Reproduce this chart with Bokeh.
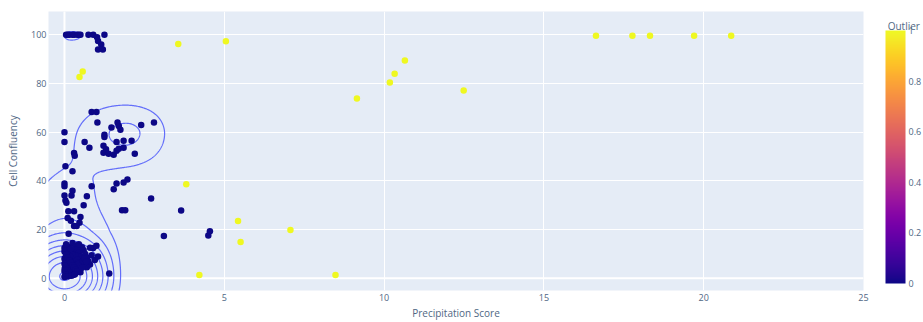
import numpy as np
from bokeh.plotting import figure
from bokeh.layouts import row
from bokeh.models import (ColumnDataSource, LinearColorMapper, ColorBar, FixedTicker,
                          Span, CustomJSTickFormatter)
from bokeh.core.properties import value
from bokeh.palettes import Plasma256
from bokeh.embed import file_html
from bokeh.resources import INLINE

# ---------------- data ----------------
# non-outlier samples (Outlier = 0)
precip_top = [0.05, 0.1, 0.15, 0.25, 0.3, 0.4, 0.45, 0.5, 0.75, 0.9, 1.02, 1.25, 1.05, 1.15, 1.05, 1.2]
conf_top = [100, 100, 100, 100, 100, 100, 100, 100, 100, 100, 99, 100, 97.5, 96, 94, 94]

precip_mid = [0.85, 1.0, 1.03, 1.47, 1.66, 1.7, 1.75, 2.4, 2.8, 0.0, 0.0, 0.63, 0.78, 0.3, 0.32,
              1.25, 1.25, 1.22, 1.3, 1.22, 1.38, 1.54, 1.63, 1.7, 1.85, 1.85, 2.1, 2.2, 1.63,
              0.03, 0.25]
conf_mid = [68.3, 68.3, 64, 62, 64, 62.6, 61, 63, 64, 60, 56, 56, 53.6, 51.5, 50.4,
            59, 58, 54.5, 53, 51.6, 51.2, 50.8, 52.4, 53.2, 53.6, 56.5, 56.5, 51.2, 56,
            46, 44]

precip_low = [0.0, 0.0, 0.25, 0.0, 0.03, 0.06, 0.22, 0.85, 0.7, 0.6, 1.54, 1.63, 1.85, 1.97, 2.71,
              1.8, 1.9, 0.12, 0.3, 0.1, 0.2, 0.5, 0.47, 0.3, 0.38, 0.13, 3.65, 3.11, 4.5, 4.55]
conf_low = [39, 37.8, 36, 34, 32, 31, 34, 37.8, 33.7, 30, 36.6, 39, 39.4, 40.6, 32.8,
            28, 28, 27.6, 27.6, 24.8, 23.6, 25.2, 22.8, 21.5, 21.5, 18.3, 27.9, 17.4, 17.6, 19.3]

precip_base = [0.0, 0.05, 0.1, 0.0, 0.15, 0.05, 0.2, 0.0, 0.1, 0.25, 0.0, 0.15, 0.3, 0.05, 0.2,
               0.0, 0.1, 0.3, 0.0, 0.15, 0.05, 0.25, 0.35, 0.4, 0.45, 0.35, 0.4, 0.3, 0.25, 0.1,
               0.5, 0.55, 0.5, 0.6, 0.65, 0.7, 0.6, 0.7, 0.8, 0.75, 0.85, 0.9, 1.0, 0.8, 0.55,
               0.45, 0.2, 0.1, 0.3, 0.2, 0.45, 0.95, 1.05, 0.15, 0.35, 1.4, 0.5]
conf_base = [0.5, 1.5, 2.5, 3.0, 3.5, 4.5, 5.0, 6.0, 6.5, 7.0, 8.0, 8.5, 9.0, 9.5, 10.0,
             11.0, 11.5, 11.0, 12.5, 13.0, 14.0, 14.5, 13.5, 12.0, 10.5, 8.0, 6.5, 5.0, 3.0, 1.0,
             9.0, 7.5, 5.5, 11.5, 10.0, 8.5, 6.5, 4.5, 5.7, 7.0, 9.5, 12.5, 13.4, 12.6, 12.8,
             14.0, 12.0, 7.5, 2.0, 1.5, 4.0, 7.5, 9.0, 4.5, 6.0, 2.0, 2.5]

precip_core = [0.02, 0.08, 0.12, 0.18, 0.22, 0.28, 0.32, 0.38, 0.42, 0.48,
               0.03, 0.09, 0.14, 0.19, 0.24, 0.29, 0.34, 0.39, 0.44, 0.52,
               0.01, 0.06, 0.11, 0.16, 0.21, 0.26, 0.31, 0.36, 0.41, 0.46,
               0.04, 0.07, 0.13, 0.17, 0.23, 0.27, 0.33, 0.37, 0.43, 0.58,
               0.05, 0.1, 0.15, 0.2, 0.25, 0.3, 0.35, 0.4, 0.62, 0.68,
               0.02, 0.12, 0.22, 0.32, 0.55]
conf_core = [1.2, 2.2, 3.1, 4.2, 5.3, 6.1, 7.2, 8.1, 9.2, 8.8,
             2.8, 3.9, 5.1, 6.2, 7.4, 8.4, 9.4, 7.7, 6.6, 5.8,
             4.1, 5.6, 6.8, 7.9, 8.9, 9.6, 4.4, 3.3, 2.6, 3.7,
             6.3, 7.6, 8.3, 9.1, 2.3, 1.4, 1.9, 4.8, 5.9, 7.1,
             9.8, 8.6, 7.3, 6.4, 5.4, 4.6, 3.5, 2.9, 8.2, 6.9,
             0.6, 0.9, 1.1, 1.6, 4.3]

# outlier samples (Outlier = 1)
precip_out = [3.56, 0.57, 0.47, 5.05, 9.15, 10.18, 10.33, 10.65, 12.49, 16.63, 17.77, 18.32,
              19.7, 20.86, 3.81, 5.43, 5.51, 7.07, 4.22, 8.48]
conf_out = [96.2, 85, 82.7, 97.4, 73.9, 80.4, 84, 89.5, 77.2, 99.6, 99.6, 99.6,
            99.6, 99.6, 38.6, 23.5, 14.9, 19.8, 1.4, 1.4]

x_ticks = [0, 5, 10, 15, 20, 25]
y_ticks = [0, 20, 40, 60, 80, 100]
cbar_ticks = [0, 0.2, 0.4, 0.6, 0.8, 1]

# ---------------- assemble ----------------
xn = precip_top + precip_mid + precip_low + precip_base + precip_core
yn = conf_top + conf_mid + conf_low + conf_base + conf_core
x_all = np.array(xn + precip_out, dtype=float)
y_all = np.array(yn + conf_out, dtype=float)
outlier = np.array([0] * len(xn) + [1] * len(precip_out), dtype=float)

# density contour: 2D histogram (bin 2 x 20), contoured on bin centres
x_edges = np.arange(-3, 27, 2)
y_edges = np.arange(-30, 150, 20)
counts, _, _ = np.histogram2d(x_all, y_all, bins=[x_edges, y_edges])
z = counts.T
xc = (x_edges[:-1] + x_edges[1:]) / 2
yc = (y_edges[:-1] + y_edges[1:]) / 2


def smooth_resample(vals, centers, fine):
    """Catmull-Rom resampling of values given on uniformly spaced centres."""
    h = centers[1] - centers[0]
    padded = np.concatenate([[vals[0]], vals, [vals[-1]]])
    u = (fine - centers[0]) / h
    i = np.clip(np.floor(u).astype(int), 0, len(vals) - 2)
    t = u - i
    p0, p1, p2, p3 = padded[i], padded[i + 1], padded[i + 2], padded[i + 3]
    return 0.5 * (2 * p1 + (-p0 + p2) * t + (2 * p0 - 5 * p1 + 4 * p2 - p3) * t ** 2
                  + (-p0 + 3 * p1 - 3 * p2 + p3) * t ** 3)


xf = np.linspace(xc[0], xc[-1], 900)
yf = np.linspace(yc[0], yc[-1], 700)
tmp = np.array([smooth_resample(r, xc, xf) for r in z])
zf = np.array([smooth_resample(c, yc, yf) for c in tmp.T]).T
levels = list(range(10, int(z.max()) + 1, 10))

# ---------------- main figure ----------------
FONT = "Open Sans"
TXT = "#506784"

p = figure(width=875, height=322, x_range=(-0.5, 25), y_range=(-5, 109.6),
           output_backend="svg", toolbar_location=None,
           min_border_left=48, min_border_top=11, min_border_bottom=29, min_border_right=12)
p.background_fill_color = "#E5ECF6"
p.border_fill_color = "white"
p.outline_line_color = None

p.xaxis.ticker = FixedTicker(ticks=x_ticks)
p.yaxis.ticker = FixedTicker(ticks=y_ticks)
p.xgrid.grid_line_color = "white"
p.ygrid.grid_line_color = "white"
for ax in (p.xaxis, p.yaxis):
    ax.axis_line_color = None
    ax.major_tick_line_color = None
    ax.minor_tick_line_color = None
    ax.major_tick_out = 0
    ax.major_tick_in = 0
    ax.minor_tick_out = 0
    ax.minor_tick_in = 0
    ax.major_label_text_font = FONT
    ax.major_label_text_font_size = "9px"
    ax.major_label_text_color = TXT
    ax.axis_label_text_font = FONT
    ax.axis_label_text_font_size = "10px"
    ax.axis_label_text_font_style = "normal"
    ax.axis_label_text_color = TXT
p.xaxis.major_label_standoff = 3
p.yaxis.major_label_standoff = 2
p.xaxis.axis_label = "Precipitation Score"
p.yaxis.axis_label = "Cell Confluency"
p.xaxis.axis_label_standoff = 2
p.yaxis.axis_label_standoff = 8

p.add_layout(Span(location=0, dimension="height", line_color="white", line_width=2, level="underlay"))
p.add_layout(Span(location=0, dimension="width", line_color="white", line_width=2, level="underlay"))

p.contour(xf, yf, zf, levels=levels, line_color="#636efa", line_width=1.2)

mapper = LinearColorMapper(palette=Plasma256, low=0, high=1)
src = ColumnDataSource(dict(x=x_all, y=y_all, outlier=outlier))
p.scatter("x", "y", source=src, size=6.5,
          fill_color={"field": "outlier", "transform": mapper}, line_color=None)

# ---------------- colour bar figure (same top/bottom borders as main) ----------------
p2 = figure(width=48, height=322, x_range=(0, 44), y_range=(0, 282),
            output_backend="svg", toolbar_location=None,
            x_axis_location=None, y_axis_location=None,
            min_border_left=3, min_border_right=0, min_border_top=11, min_border_bottom=29)
p2.grid.visible = False
p2.outline_line_color = None
p2.background_fill_color = "white"
p2.border_fill_color = "white"

p2.text(x=[9], y=[267.5], text=["Outlier"], text_font=value(FONT), text_font_size="10px",
        text_color=TXT, text_baseline="middle", text_align="left")

cb = ColorBar(color_mapper=mapper, width=20, height=253,
              ticker=FixedTicker(ticks=cbar_ticks),
              formatter=CustomJSTickFormatter(code="return String(Math.round(tick*10)/10)"),
              major_label_text_font=FONT, major_label_text_font_size="9px",
              major_label_text_color=TXT, label_standoff=3,
              major_tick_line_color=None, minor_tick_line_color=None,
              bar_line_color=None, border_line_color=None, background_fill_color=None,
              padding=0, margin=7, location="bottom_left")
p2.add_layout(cb)

layout = row(p, p2, spacing=0)
open("out.html", "w").write(file_html(layout, INLINE))
